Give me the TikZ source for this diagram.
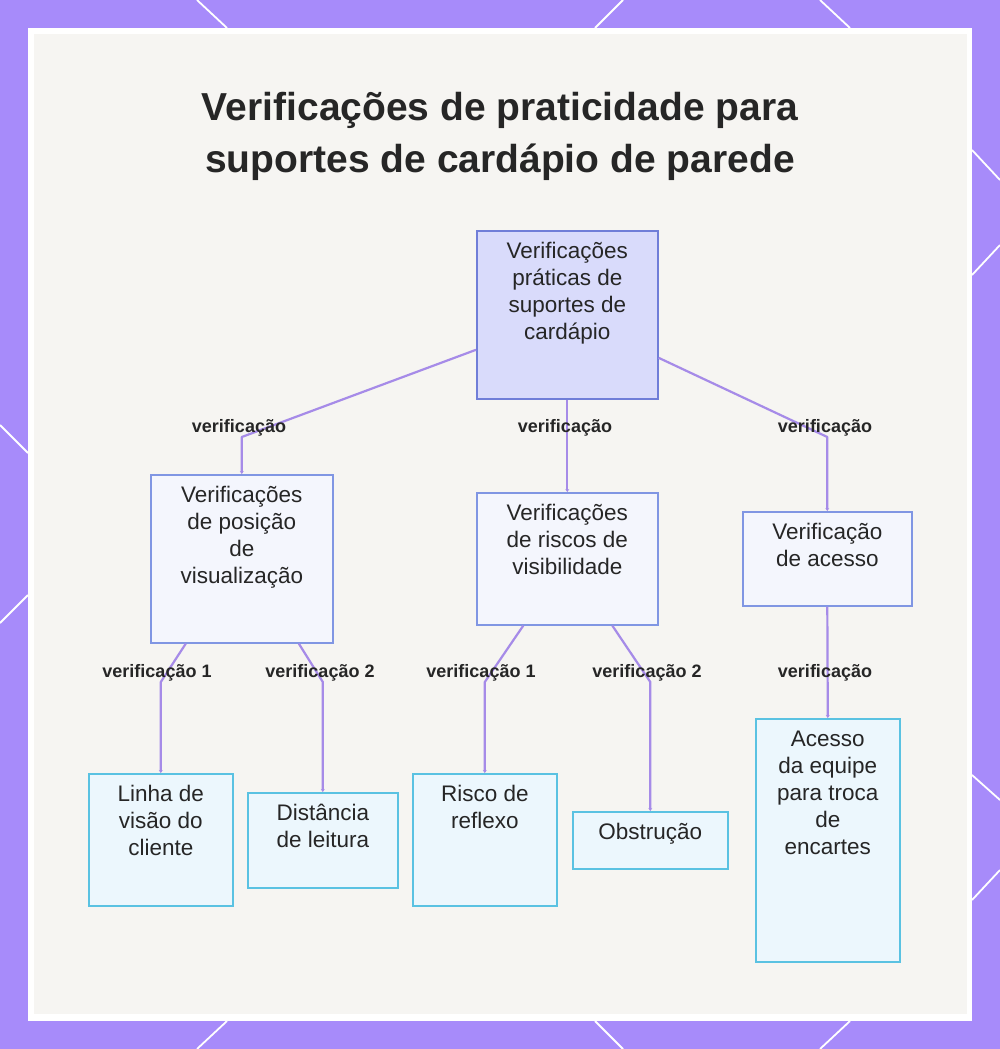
\documentclass[tikz,border=0pt]{standalone}
\usepackage{fontspec}
\setmainfont{Liberation Sans}
\usetikzlibrary{arrows.meta}

\definecolor{framepurple}{RGB}{167,139,250}
\definecolor{panelgrey}{RGB}{246,245,242}
\definecolor{rootfill}{RGB}{217,219,251}
\definecolor{rootline}{RGB}{112,126,216}
\definecolor{midfill}{RGB}{244,246,253}
\definecolor{midline}{RGB}{128,150,227}
\definecolor{leaffill}{RGB}{236,247,253}
\definecolor{leafline}{RGB}{90,194,226}
\definecolor{linkpurple}{RGB}{166,139,232}
\definecolor{inkdark}{RGB}{38,38,38}

\newcommand{\boxtxt}[3]{\parbox[c][#2][t]{#1}{\centering\rule{0pt}{28pt}#3}}

\begin{document}
\begin{tikzpicture}[x=1pt,y=-1pt,
  rootbox/.style={draw=rootline, fill=rootfill, line width=1.6, inner sep=0pt,
    anchor=north west, text=inkdark, font=\fontsize{22.5}{27}\selectfont},
  midbox/.style={rootbox, draw=midline, fill=midfill},
  leafbox/.style={rootbox, draw=leafline, fill=leaffill},
  link/.style={draw=linkpurple, line width=2.2, line join=round,
    -{Stealth[length=3pt,width=4pt]}},
  lbl/.style={anchor=base, text=inkdark, font=\fontsize{18}{20}\selectfont\bfseries},
  ttl/.style={anchor=base, text=inkdark, font=\fontsize{39}{46}\selectfont\bfseries},
  deco/.style={white, line width=1.8}]

\useasboundingbox (0,0) rectangle (1000,1049);

% frame
\fill[framepurple] (0,0) rectangle (1000,1049);
\draw[deco] (197,0) -- (227,28);
\draw[deco] (623,0) -- (595,28);
\draw[deco] (820,0) -- (850,28);
\draw[deco] (972,150) -- (1000,180);
\draw[deco] (972,275) -- (1000,245);
\draw[deco] (972,775) -- (1000,800);
\draw[deco] (972,900) -- (1000,870);
\draw[deco] (850,1021) -- (820,1049);
\draw[deco] (595,1021) -- (623,1049);
\draw[deco] (227,1021) -- (197,1049);
\draw[deco] (0,425) -- (28,453);
\draw[deco] (0,623) -- (28,595);
\fill[white] (28,28) rectangle (972,1021);
\fill[panelgrey] (34,34) rectangle (967,1014);

% title
\node[ttl] (title1) at (500,120) {Verificações de praticidade para};
\node[ttl] (title2) at (500,172) {suportes de cardápio de parede};

% boxes
\node[rootbox] (root) at (476,230)
  {\boxtxt{181pt}{168pt}{Verificações\\práticas de\\suportes de\\cardápio}};

\node[midbox] (pos) at (150,474)
  {\boxtxt{182pt}{168pt}{Verificações\\de posição\\de\\visualização}};
\node[midbox] (risk) at (476,492)
  {\boxtxt{181pt}{132pt}{Verificações\\de riscos de\\visibilidade}};
\node[midbox] (acc) at (742,511)
  {\boxtxt{169pt}{94pt}{Verificação\\de acesso}};

\node[leafbox] (linha) at (88,773)
  {\boxtxt{144pt}{132pt}{Linha de\\visão do\\cliente}};
\node[leafbox] (dist) at (247,792)
  {\boxtxt{150pt}{95pt}{Distância\\de leitura}};
\node[leafbox] (reflexo) at (412,773)
  {\boxtxt{144pt}{132pt}{Risco de\\reflexo}};
\node[leafbox] (obst) at (572,811)
  {\boxtxt{155pt}{57pt}{Obstrução}};
\node[leafbox] (troca) at (755,718)
  {\boxtxt{144pt}{243pt}{Acesso\\da equipe\\para troca\\de\\encartes}};

% links
\draw[link] ([yshift=-35pt]root.west) -- (pos.north |- 0,437) -- (pos.north);
\draw[link] (root.south) -- (risk.north);
\draw[link] ([yshift=-43pt]root.east) -- (acc.north |- 0,437) -- (acc.north);

\draw[link] ([xshift=-56pt]pos.south) -- (linha.north |- 0,682) -- (linha.north);
\draw[link] ([xshift=57pt]pos.south) -- (dist.north |- 0,682) -- (dist.north);
\draw[link] ([xshift=-44pt]risk.south) -- (reflexo.north |- 0,682) -- (reflexo.north);
\draw[link] ([xshift=45pt]risk.south) -- (obst.north |- 0,682) -- (obst.north);
\draw[link] (acc.south) -- (troca.north);

% labels
\node[lbl] (lbA) at (239,432) {verificação};
\node[lbl] (lbB) at (565,432) {verificação};
\node[lbl] (lbC) at (825,432) {verificação};
\node[lbl] (lbD) at (157,677) {verificação 1};
\node[lbl] (lbE) at (320,677) {verificação 2};
\node[lbl] (lbF) at (481,677) {verificação 1};
\node[lbl] (lbG) at (647,677) {verificação 2};
\node[lbl] (lbH) at (825,677) {verificação};

\end{tikzpicture}
\end{document}
